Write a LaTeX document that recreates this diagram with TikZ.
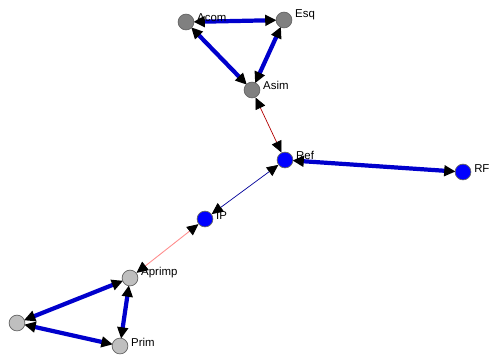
\documentclass[tikz,border=0pt]{standalone}
\usepackage{fontspec}
\setmainfont{Liberation Sans}
\usetikzlibrary{arrows.meta,backgrounds}

\def\tip{Triangle[length=6.5pt,width=6pt,color=black]}

\tikzset{
	vert/.style={circle,draw=black!60,line width=0.4pt,minimum size=9pt,inner sep=0pt,
		label={[anchor=south west,inner sep=0pt,xshift=1.5pt,yshift=-0.2pt,font=\fontsize{6.5}{7}\selectfont]east:#1}},
	dark/.style={vert=#1,fill=black!50},
	light/.style={vert=#1,fill=black!25},
	blue/.style={vert=#1,fill=blue},
	heavy/.style={draw=blue!80!black,line width=2.4pt,{\tip}-{\tip},shorten <=-0.5pt,shorten >=-0.5pt},
	thinred/.style={draw=red!70!black,line width=0.4pt,{\tip}-{\tip}},
	thinpink/.style={draw=red!45!white,line width=0.5pt,{\tip}-{\tip}},
	thinblue/.style={draw=blue!60!black,line width=0.4pt,{\tip}-{\tip}}
}

\begin{document}
\begin{tikzpicture}[x=0.02cm,y=-0.02cm]
			\useasboundingbox (0,0) rectangle (490,356);

			% upper triangle
			\node[dark=Acom] (acom) at (186,22) {};
			\node[dark=Esq] (esq) at (284,20) {};
			\node[dark=Asim] (asim) at (252,90) {};

			% middle
			\node[blue=Ref] (ref) at (285,160) {};
			\node[blue=RF] (rf) at (463,172) {};
			\node[blue=IP] (ip) at (205,219) {};

			% lower triangle
			\node[light=Aprimp] (aprimp) at (130,278) {};
			\node[light={}] (left) at (17,323) {};
			\node[light=Prim] (prim) at (120,346) {};

			\begin{scope}[on background layer]
			% links of the upper triangle
			\draw[heavy] (acom) -- (esq);
			\draw[heavy] (acom) -- (asim);
			\draw[heavy] (esq) -- (asim);

			% links through the middle
			\draw[thinred] (asim) -- (ref);
			\draw[heavy] (ref) -- (rf);
			\draw[thinblue] (ip) -- (ref);
			\draw[thinpink] (aprimp) -- (ip);

			% links of the lower triangle
			\draw[heavy] (left) -- (aprimp);
			\draw[heavy] (left) -- (prim);
			\draw[heavy] (aprimp) -- (prim);
			\end{scope}
		\end{tikzpicture}
\end{document}
